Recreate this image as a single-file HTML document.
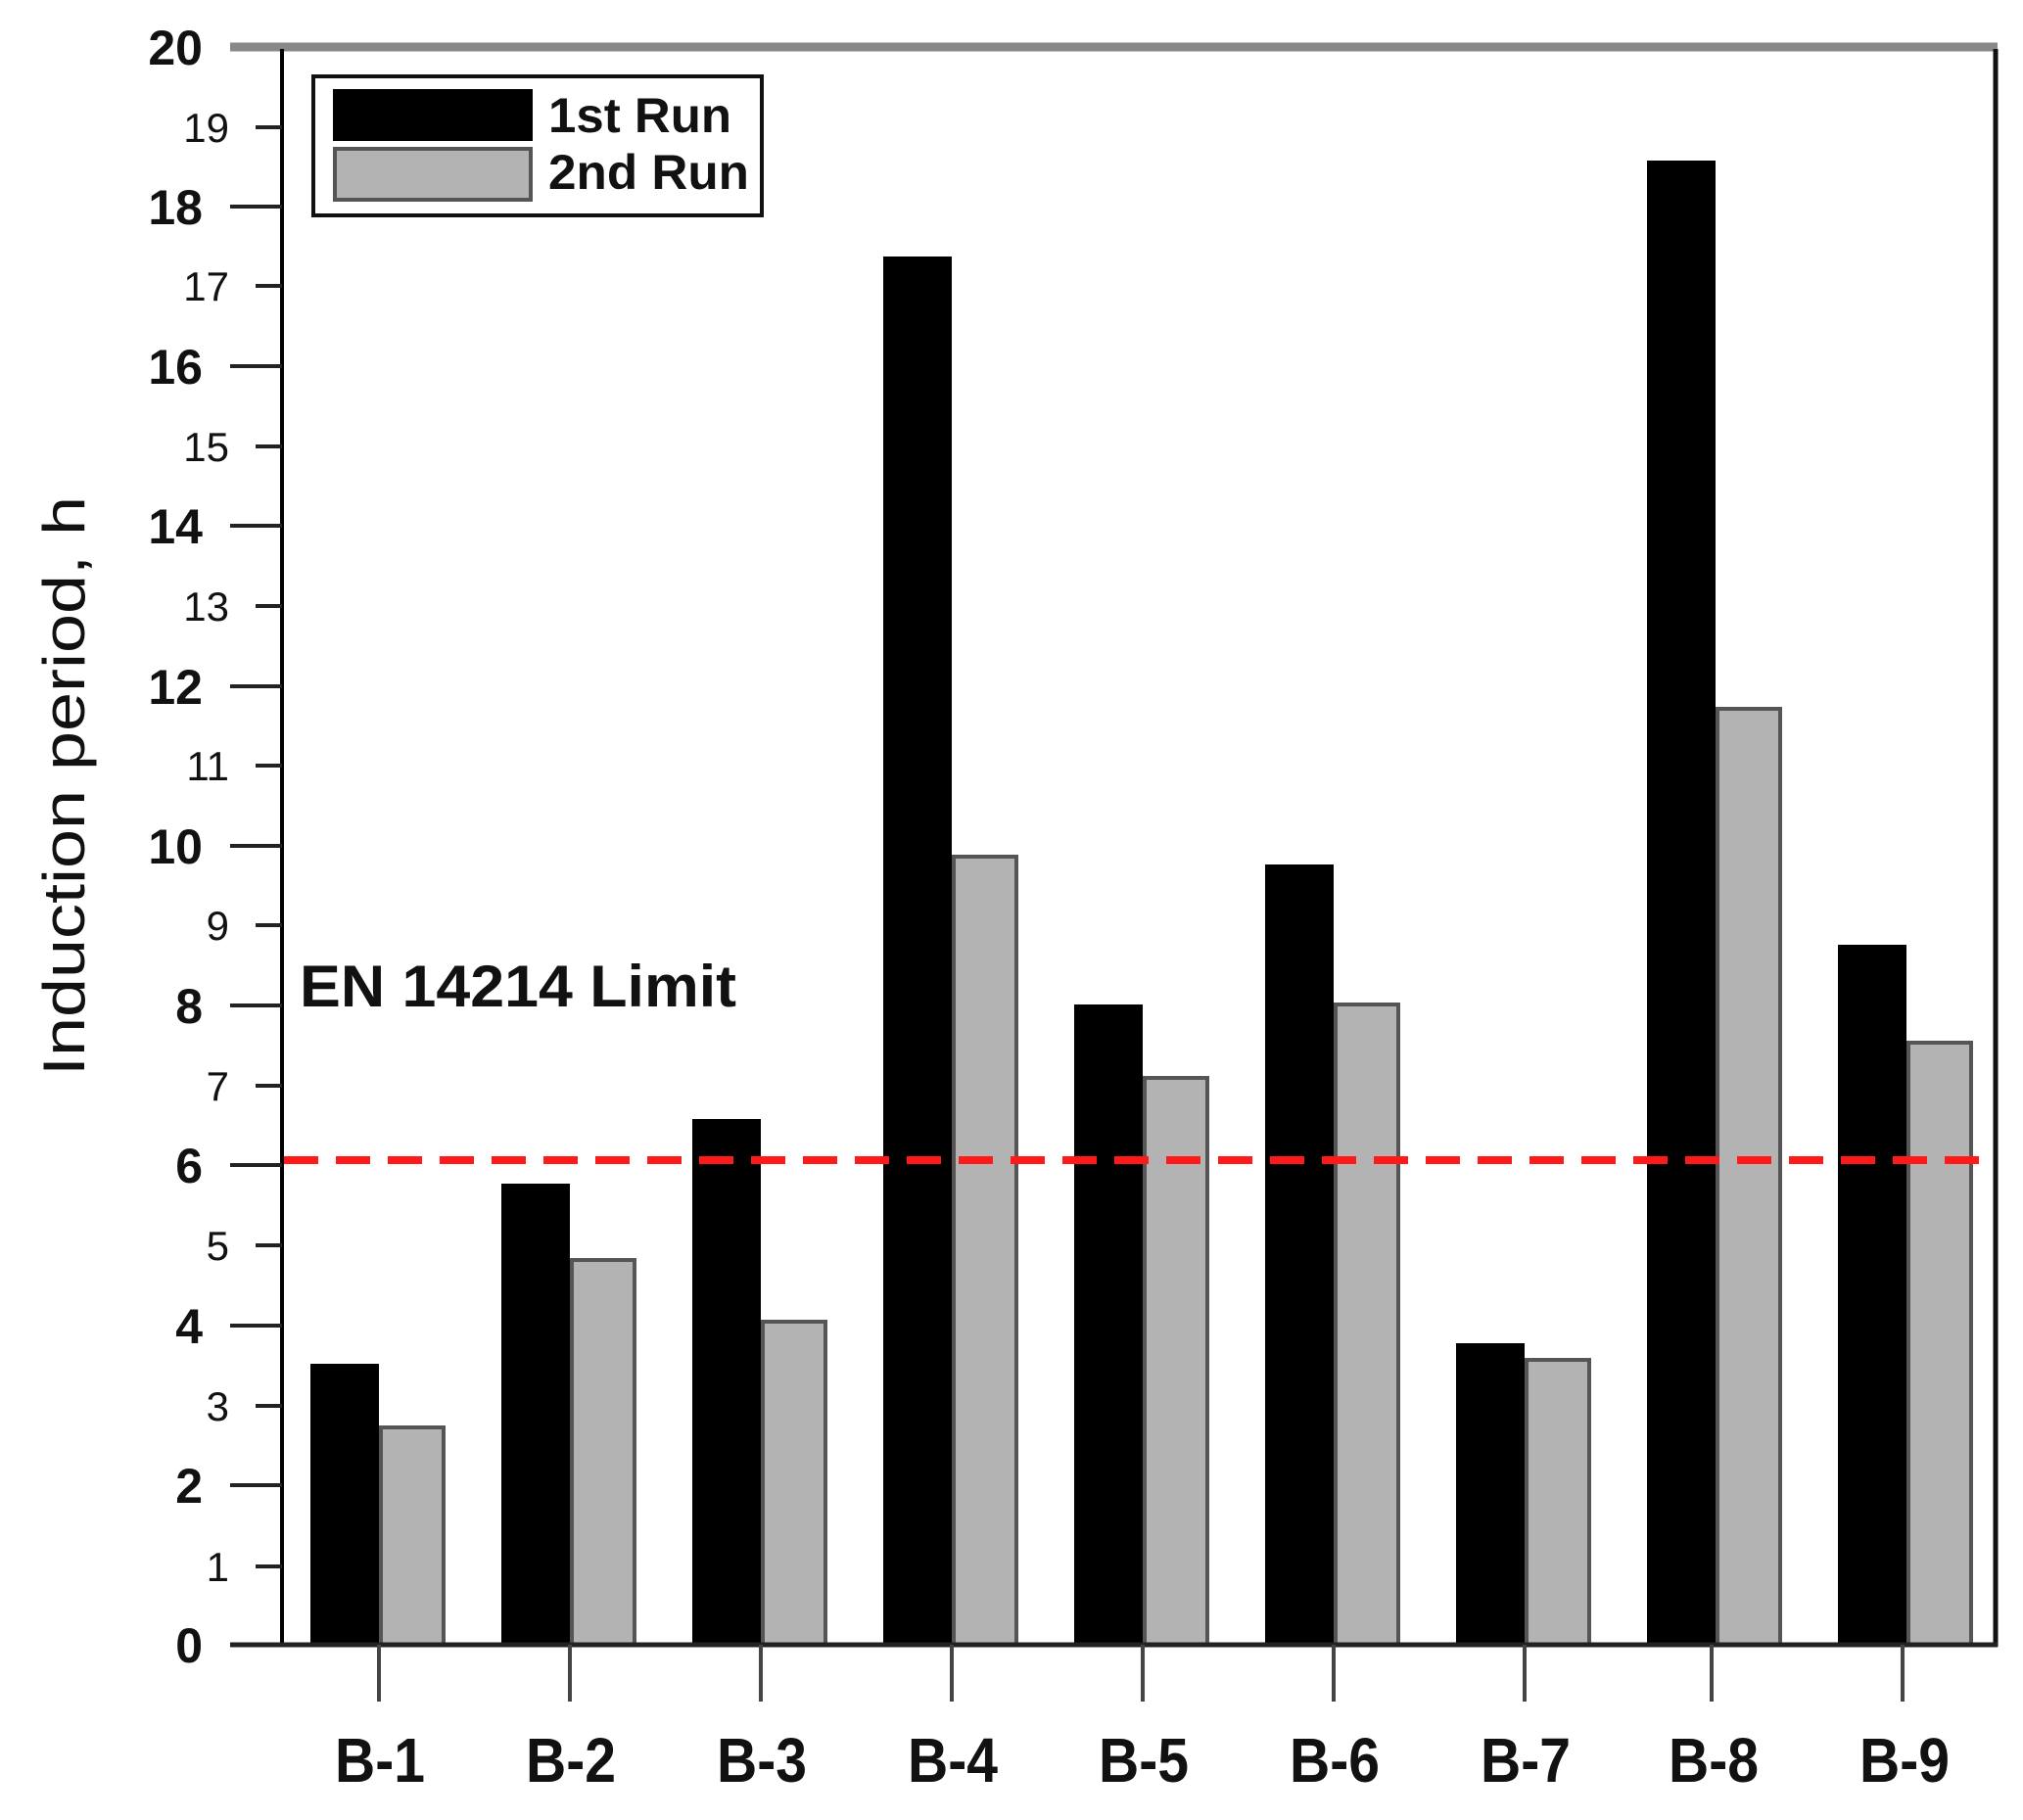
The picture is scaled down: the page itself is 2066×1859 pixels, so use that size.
<!DOCTYPE html>
<html><head><meta charset="utf-8"><style>html,body{margin:0;padding:0;background:#fff}svg{display:block}</style></head>
<body>
<svg width="2066" height="1859" viewBox="0 0 2066 1859" xmlns="http://www.w3.org/2000/svg" font-family="'Liberation Sans', sans-serif">
<rect width="2066" height="1859" fill="#fff"/>
<!-- bars -->
<g id="bars">
<rect x="317" y="1393" width="70" height="287" fill="#000"/>
<rect x="389" y="1458" width="64" height="222" fill="#b3b3b3" stroke="#555" stroke-width="4"/>
<rect x="512" y="1209" width="70" height="471" fill="#000"/>
<rect x="584" y="1287" width="64" height="393" fill="#b3b3b3" stroke="#555" stroke-width="4"/>
<rect x="707" y="1143" width="70" height="537" fill="#000"/>
<rect x="779" y="1350" width="64" height="330" fill="#b3b3b3" stroke="#555" stroke-width="4"/>
<rect x="902" y="262" width="70" height="1418" fill="#000"/>
<rect x="974" y="875" width="64" height="805" fill="#b3b3b3" stroke="#555" stroke-width="4"/>
<rect x="1097" y="1026" width="70" height="654" fill="#000"/>
<rect x="1169" y="1101" width="64" height="579" fill="#b3b3b3" stroke="#555" stroke-width="4"/>
<rect x="1292" y="883" width="70" height="797" fill="#000"/>
<rect x="1364" y="1026" width="64" height="654" fill="#b3b3b3" stroke="#555" stroke-width="4"/>
<rect x="1487" y="1372" width="70" height="308" fill="#000"/>
<rect x="1559" y="1389" width="64" height="291" fill="#b3b3b3" stroke="#555" stroke-width="4"/>
<rect x="1682" y="164" width="70" height="1516" fill="#000"/>
<rect x="1754" y="724" width="64" height="956" fill="#b3b3b3" stroke="#555" stroke-width="4"/>
<rect x="1877" y="965" width="70" height="715" fill="#000"/>
<rect x="1949" y="1065" width="64" height="615" fill="#b3b3b3" stroke="#555" stroke-width="4"/>
</g>
<!-- red limit -->
<line x1="290" y1="1185" x2="2036" y2="1185" stroke="#ff1a1a" stroke-width="8" stroke-dasharray="35 18"/>
<!-- axes -->
<line x1="235" y1="48" x2="2040" y2="48" stroke="#888" stroke-width="9"/>
<line x1="2038" y1="50" x2="2038" y2="1682" stroke="#111" stroke-width="5"/>
<line x1="288" y1="50" x2="288" y2="1682" stroke="#000" stroke-width="4"/>
<line x1="235" y1="1680" x2="2040" y2="1680" stroke="#222" stroke-width="5"/>
<!-- y ticks -->
<g stroke="#222" stroke-width="4">
<line x1="235" y1="211" x2="288" y2="211"/><line x1="235" y1="374" x2="288" y2="374"/><line x1="235" y1="537" x2="288" y2="537"/><line x1="235" y1="701" x2="288" y2="701"/><line x1="235" y1="864" x2="288" y2="864"/><line x1="235" y1="1027" x2="288" y2="1027"/><line x1="235" y1="1190" x2="288" y2="1190"/><line x1="235" y1="1354" x2="288" y2="1354"/><line x1="235" y1="1517" x2="288" y2="1517"/>
<line x1="261" y1="130" x2="288" y2="130"/><line x1="261" y1="292" x2="288" y2="292"/><line x1="261" y1="456" x2="288" y2="456"/><line x1="261" y1="619" x2="288" y2="619"/><line x1="261" y1="782" x2="288" y2="782"/><line x1="261" y1="945" x2="288" y2="945"/><line x1="261" y1="1109" x2="288" y2="1109"/><line x1="261" y1="1272" x2="288" y2="1272"/><line x1="261" y1="1436" x2="288" y2="1436"/><line x1="261" y1="1600" x2="288" y2="1600"/>
</g>
<g font-size="50" font-weight="bold" text-anchor="end" fill="#111">
<text x="207" y="66" transform="scale(1,1)">20</text>
<text x="207" y="229">18</text><text x="207" y="392">16</text><text x="207" y="555">14</text><text x="207" y="719">12</text><text x="207" y="882">10</text><text x="207" y="1045">8</text><text x="207" y="1208">6</text><text x="207" y="1372">4</text><text x="207" y="1535">2</text><text x="207" y="1698">0</text>
</g>
<g font-size="42" text-anchor="end" fill="#111">
<text x="234" y="145">19</text><text x="234" y="307">17</text><text x="234" y="471">15</text><text x="234" y="634">13</text><text x="234" y="797">11</text><text x="234" y="960">9</text><text x="234" y="1124">7</text><text x="234" y="1287">5</text><text x="234" y="1451">3</text><text x="234" y="1615">1</text>
</g>
<!-- x ticks -->
<g stroke="#444" stroke-width="4">
<line x1="387" y1="1680" x2="387" y2="1738"/><line x1="582" y1="1680" x2="582" y2="1738"/><line x1="777" y1="1680" x2="777" y2="1738"/><line x1="972" y1="1680" x2="972" y2="1738"/><line x1="1167" y1="1680" x2="1167" y2="1738"/><line x1="1362" y1="1680" x2="1362" y2="1738"/><line x1="1557" y1="1680" x2="1557" y2="1738"/><line x1="1748" y1="1680" x2="1748" y2="1738"/><line x1="1943" y1="1680" x2="1943" y2="1738"/>
</g>
<g font-size="64" font-weight="bold" text-anchor="middle" fill="#111">
<text x="388" y="1820" textLength="92" lengthAdjust="spacingAndGlyphs">B-1</text>
<text x="583" y="1820" textLength="92" lengthAdjust="spacingAndGlyphs">B-2</text>
<text x="778" y="1820" textLength="92" lengthAdjust="spacingAndGlyphs">B-3</text>
<text x="973" y="1820" textLength="92" lengthAdjust="spacingAndGlyphs">B-4</text>
<text x="1168" y="1820" textLength="92" lengthAdjust="spacingAndGlyphs">B-5</text>
<text x="1363" y="1820" textLength="92" lengthAdjust="spacingAndGlyphs">B-6</text>
<text x="1558" y="1820" textLength="92" lengthAdjust="spacingAndGlyphs">B-7</text>
<text x="1750" y="1820" textLength="92" lengthAdjust="spacingAndGlyphs">B-8</text>
<text x="1945" y="1820" textLength="92" lengthAdjust="spacingAndGlyphs">B-9</text>
</g>
<!-- y title -->
<text x="0" y="0" font-size="60" text-anchor="middle" fill="#111" transform="translate(86,803) rotate(-90)" textLength="592" lengthAdjust="spacingAndGlyphs">Induction period, h</text>
<!-- limit label -->
<text x="306" y="1028" font-size="60" font-weight="bold" fill="#111" textLength="446" lengthAdjust="spacingAndGlyphs">EN 14214 Limit</text>
<!-- legend -->
<rect x="320" y="78" width="458" height="142" fill="#fff" stroke="#111" stroke-width="4"/>
<rect x="340" y="91" width="204" height="53" fill="#000"/>
<rect x="342" y="152" width="200" height="52" fill="#b3b3b3" stroke="#555" stroke-width="4"/>
<text x="560" y="135" font-size="50" font-weight="bold" fill="#111" textLength="187" lengthAdjust="spacingAndGlyphs">1st Run</text>
<text x="560" y="193" font-size="50" font-weight="bold" fill="#111" textLength="205" lengthAdjust="spacingAndGlyphs">2nd Run</text>
</svg>
</body></html>
